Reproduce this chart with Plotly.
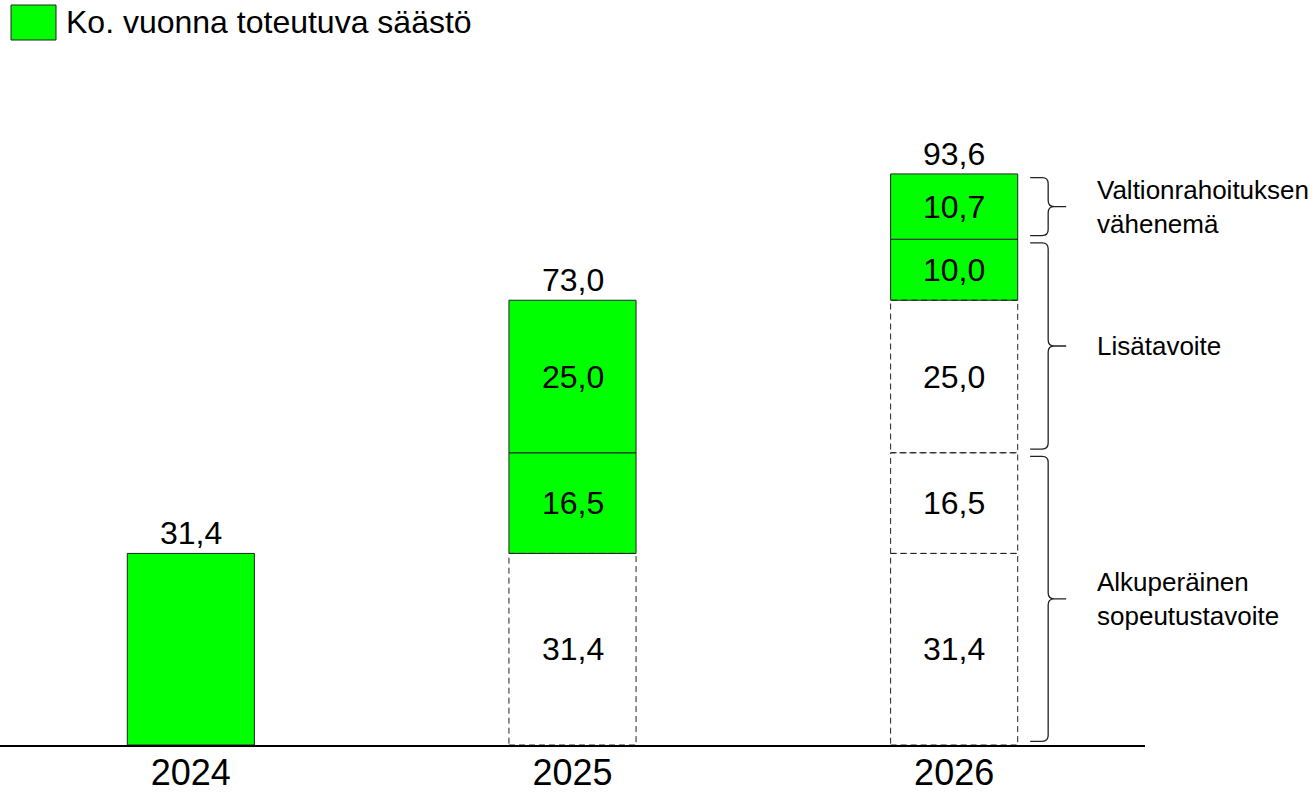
import plotly.graph_objects as go

# ---------------- data ----------------
years = ["2024", "2025", "2026"]
totals = [31.4, 73.0, 93.6]

# stacked components (bottom -> top), values per year
seg_names = ["Sopeutus 2024", "Sopeutus 2025", "Lisätavoite 2025", "Lisätavoite 2026", "Valtionrahoitus 2026"]
seg_values = [
    [31.4, 31.4, 31.4],
    [0.0, 16.5, 16.5],
    [0.0, 25.0, 25.0],
    [0.0, 0.0, 10.0],
    [0.0, 0.0, 10.7],
]
# index of the year in which each component is realised
seg_realised = [0, 1, 1, 2, 2]

legend_label = "Ko. vuonna toteutuva säästö"
brace_labels = ["Valtionrahoituksen<br>vähenemä", "Lisätavoite", "Alkuperäinen<br>sopeutustavoite"]
# brace groups: (first component index, last component index) in the last stack
brace_groups = [(4, 4), (2, 3), (0, 1)]

# ---------------- style ----------------
GREEN = "#00FF00"
EDGE = "#222222"
FONT = "Arial, Liberation Sans, sans-serif"
BAR_W = 0.333
X = list(range(len(years)))

def fmt(v):
    return f"{v:.1f}".replace(".", ",")

fig = go.Figure()
shapes = []
annotations = []

n_nonzero = [sum(1 for s in seg_values if s[i] > 0) for i in range(len(years))]

bases = [0.0] * len(years)
seg_bases = []
for k, vals in enumerate(seg_values):
    colors, lw = [], []
    sb = []
    for i, v in enumerate(vals):
        sb.append(bases[i])
        realised = (i == seg_realised[k])
        colors.append(GREEN if realised else "white")
        lw.append(1 if (realised and v > 0) else 0)
        if v > 0 and not realised:
            shapes.append(dict(type="rect", xref="x", yref="y",
                               x0=X[i] - BAR_W / 2, x1=X[i] + BAR_W / 2,
                               y0=bases[i], y1=bases[i] + v,
                               line=dict(color=EDGE, width=1, dash="6px,4px"),
                               fillcolor="rgba(0,0,0,0)", layer="above"))
        if v > 0 and n_nonzero[i] > 1:
            annotations.append(dict(x=X[i], y=bases[i] + v / 2, xref="x", yref="y",
                                    text=fmt(v), showarrow=False,
                                    font=dict(size=32, color="black", family=FONT)))
    seg_bases.append(sb)
    fig.add_trace(go.Bar(x=X, y=vals, base=sb, width=BAR_W, name=seg_names[k],
                         marker=dict(color=colors, line=dict(color=EDGE, width=lw)),
                         showlegend=False, hoverinfo="skip"))
    bases = [bases[i] + vals[i] for i in range(len(years))]

# totals above the bars
for i, t in enumerate(totals):
    annotations.append(dict(x=X[i], y=bases[i], xref="x", yref="y", yanchor="bottom",
                            text=fmt(t), showarrow=False, yshift=0,
                            font=dict(size=32, color="black", family=FONT)))

# braces at the last bar
last = len(years) - 1
xe, xv, xt, rp = 76, 94, 112, 6
r = 1.0
inset = 0.6
for (a, b), lab in zip(brace_groups, brace_labels):
    bot = seg_bases[a][last] + inset
    top = seg_bases[b][last] + seg_values[b][last] - inset
    mid = (top + bot) / 2
    path = (f"M {xe},{top} L {xv-rp},{top} Q {xv},{top} {xv},{top-r} "
            f"L {xv},{mid+r} Q {xv},{mid} {xv+rp},{mid} L {xt},{mid} "
            f"M {xv+rp},{mid} Q {xv},{mid} {xv},{mid-r} "
            f"L {xv},{bot+r} Q {xv},{bot} {xv-rp},{bot} L {xe},{bot}")
    shapes.append(dict(type="path", xref="x", yref="y", xsizemode="pixel", xanchor=X[last],
                       path=path, line=dict(color=EDGE, width=1.3)))
    annotations.append(dict(x=0.956, xref="paper", y=mid, yref="y", xanchor="left",
                            align="left", text=lab, showarrow=False,
                            font=dict(size=26, color="black", family=FONT)))

# legend (swatch + text)
PW, PH = 1145, 665
def px(x):
    return x / PW
def py(y):
    return (745 - y) / PH
shapes.append(dict(type="rect", xref="paper", yref="paper",
                   x0=px(11), x1=px(56), y0=py(40), y1=py(5),
                   fillcolor=GREEN, line=dict(color=EDGE, width=1)))
annotations.append(dict(x=px(64), y=py(22), xref="paper", yref="paper",
                        xanchor="left", yanchor="middle", text=legend_label,
                        showarrow=False, font=dict(size=32, color="black", family=FONT)))

fig.update_layout(
    width=1316, height=793,
    margin=dict(l=0, r=171, t=80, b=48),
    paper_bgcolor="white", plot_bgcolor="white",
    barmode="overlay",
    shapes=shapes, annotations=annotations,
    font=dict(family=FONT, color="black"),
    xaxis=dict(range=[-0.5, 2.5], tickvals=X, ticktext=years, showgrid=False, zeroline=False,
               showline=True, linecolor="black", linewidth=2, ticks="", ticklen=0,
               ticklabelstandoff=-5, automargin=False,
               tickfont=dict(size=36, family=FONT, color="black"), fixedrange=True),
    yaxis=dict(range=[0, 109], visible=False, fixedrange=True, automargin=False),
    showlegend=False,
)

fig.write_html(
    "out.html",
    config={"displayModeBar": False},
    post_script=(
        "document.body.style.margin='0';"
        "document.body.style.overflow='hidden';"
        "document.documentElement.style.overflow='hidden';"
    ),
)
